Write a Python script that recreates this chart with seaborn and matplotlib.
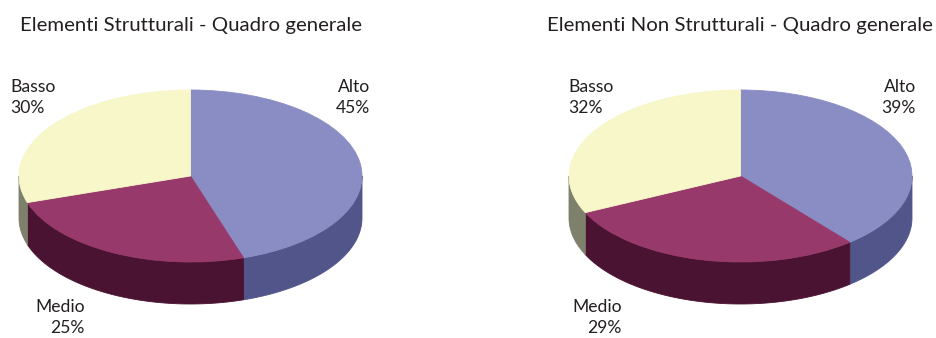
import numpy as np
import matplotlib
matplotlib.use("Agg")
import matplotlib.pyplot as plt
import seaborn as sns
from matplotlib.patches import Polygon

# ---- data ----
categories = ["Alto", "Medio", "Basso"]
strutturali = [45, 25, 30]
non_strutturali = [39, 29, 32]
titles = ["Elementi Strutturali - Quadro generale",
          "Elementi Non Strutturali - Quadro generale"]

top_colors = sns.color_palette(["#8A8DC3", "#97396B", "#F7F7C9"])
side_colors = sns.color_palette(["#52558A", "#4A1331", "#7D806B"])
text_color = "#231F20"

sns.set_theme(style="white")
plt.rcParams["font.family"] = ["Lato", "DejaVu Sans"]

W, H = 937, 338
fig = plt.figure(figsize=(W / 100, H / 100), dpi=100)


def px(x, y):
    return x / W, 1 - y / H


def draw_pie(values, cx, cy, rx, ry, depth_px):
    ax = fig.add_axes([0, 0, 1, 1])
    ax.patch.set_alpha(0)
    wedges, _ = ax.pie(values, colors=top_colors, startangle=90,
                       counterclock=False, radius=1, center=(0, 0),
                       wedgeprops=dict(linewidth=0.6))
    for w in wedges:
        w.set_edgecolor(w.get_facecolor())
        w.set_zorder(2)
    d = depth_px / ry
    fr = np.asarray(values, float) / np.sum(values)
    starts = 90 - 360 * np.concatenate([[0], np.cumsum(fr)[:-1]])
    ends = starts - 360 * fr
    for s, e, col in zip(starts, ends, side_colors):
        for k in (-360, 0, 360):
            lo = max(e + k, -180)
            hi = min(s + k, 0)
            if hi - lo <= 0:
                continue
            t = np.radians(np.linspace(lo, hi, 120))
            top = np.column_stack([np.cos(t), np.sin(t)])
            bot = np.column_stack([np.cos(t), np.sin(t) - d])[::-1]
            ax.add_patch(Polygon(np.vstack([top, bot]), closed=True,
                                 facecolor=col, edgecolor=col,
                                 linewidth=0.6, zorder=1))
    ax.set_aspect("auto")
    ax.set_xlim((0 - cx) / rx, (W - cx) / rx)
    ax.set_ylim((cy - H) / ry, cy / ry)
    ax.axis("off")


draw_pie(strutturali, 190.5, 176, 171.5, 86, 42)
draw_pie(non_strutturali, 740.5, 176, 171.5, 86, 42)

# titles
title_fs = 14.7
fig.text(*px(20, 31), titles[0], fontsize=title_fs, color=text_color,
         ha="left", va="baseline")
fig.text(*px(547, 31), titles[1], fontsize=title_fs, color=text_color,
         ha="left", va="baseline")

# labels
lab_fs = 12.6
def label(x, y, cat, val, ha):
    fig.text(*px(x, y), cat, fontsize=lab_fs, color=text_color,
             ha=ha, va="baseline")
    fig.text(*px(x, y + 21), f"{val}%", fontsize=lab_fs, color=text_color,
             ha=ha, va="baseline")

label(10, 92, categories[2], strutturali[2], "left")
label(370, 92, categories[0], strutturali[0], "right")
label(85, 312, categories[1], strutturali[1], "right")

label(568, 92, categories[2], non_strutturali[2], "left")
label(916, 92, categories[0], non_strutturali[0], "right")
label(622, 312, categories[1], non_strutturali[1], "right")

fig.savefig("out.png", dpi=100)
